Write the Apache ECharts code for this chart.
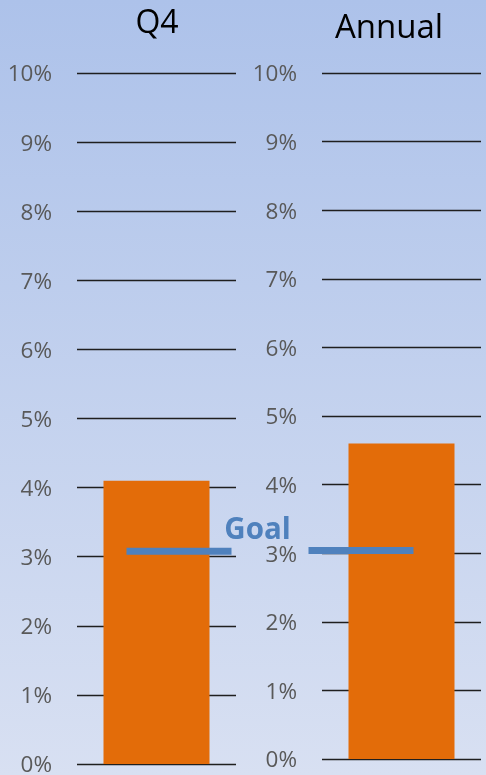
<!DOCTYPE html>
<html>
<head>
<meta charset="utf-8">
<script src="https://cdn.jsdelivr.net/npm/echarts@6/dist/echarts.min.js"></script>
<style>
html,body{margin:0;padding:0;background:#fff;}
#chart{width:486px;height:775px;}
</style>
</head>
<body>
<div id="chart"></div>
<script>
// Data
const panels = ['Q4', 'Annual'];
const actual = [4.1, 4.6];      // percent
const goal = [3.08, 3.04];      // percent
const goalLabel = 'Goal';
const yMin = 0, yMax = 10, yStep = 1;

const chart = echarts.init(document.getElementById('chart'), null, {renderer: 'canvas'});

const FONT = '"Open Sans", "DejaVu Sans", sans-serif';
const grids = [
  {left: 77, top: 73, width: 159, height: 691, containLabel: false, outerBoundsMode: 'none'},
  {left: 322, top: 73, width: 159, height: 686, containLabel: false, outerBoundsMode: 'none'}
];
const goalOffsets = [[22.5, 0], [-40.5, 0]];
const titlePos = [[157, 24], [389, 28.5]];
const titleSize = [32, 33];

const xAxes = panels.map((p, i) => ({
  type: 'category', gridIndex: i, data: [p], show: false
}));
const yAxes = panels.map((p, i) => ({
  type: 'value', gridIndex: i, min: yMin, max: yMax, interval: yStep,
  axisLine: {show: false}, axisTick: {show: false},
  axisLabel: {
    formatter: v => '{t|' + v + '%}',
    margin: 25,
    rich: {t: {color: '#595959', fontSize: 22.5, fontFamily: FONT, padding: [4, 0, 0, 0]}}
  },
  splitLine: {show: true, lineStyle: {color: '#1f1f1f', width: 1.3}}
}));

const series = [];
panels.forEach((p, i) => {
  series.push({
    type: 'bar', xAxisIndex: i, yAxisIndex: i, data: [actual[i]],
    barWidth: 106, itemStyle: {color: '#e36c09'}, z: 2
  });
});
panels.forEach((p, i) => {
  series.push({
    type: 'scatter', xAxisIndex: i, yAxisIndex: i, data: [goal[i]],
    symbol: 'rect', symbolSize: [105, 7], symbolOffset: goalOffsets[i],
    itemStyle: {color: '#4f81bd', opacity: 1}, clip: false, z: 5,
    silent: true
  });
});

const graphics = panels.map((p, i) => ({
  type: 'text', x: titlePos[i][0], y: titlePos[i][1],
  style: {text: p, font: titleSize[i] + 'px ' + FONT, fill: '#000', textAlign: 'center', textVerticalAlign: 'middle'}
}));
graphics.push({
  type: 'text', x: 257.5, y: 531, z: 10,
  style: {text: goalLabel, font: 'bold 29.5px ' + FONT, fill: '#4f81bd', textAlign: 'center', textVerticalAlign: 'middle'}
});

chart.setOption({
  animation: false,
  backgroundColor: new echarts.graphic.LinearGradient(0, 0, 0, 1, [
    {offset: 0, color: '#adc2ea'},
    {offset: 1, color: '#d8e0f2'}
  ]),
  grid: grids,
  xAxis: xAxes,
  yAxis: yAxes,
  series: series,
  graphic: graphics
});
</script>
</body>
</html>
